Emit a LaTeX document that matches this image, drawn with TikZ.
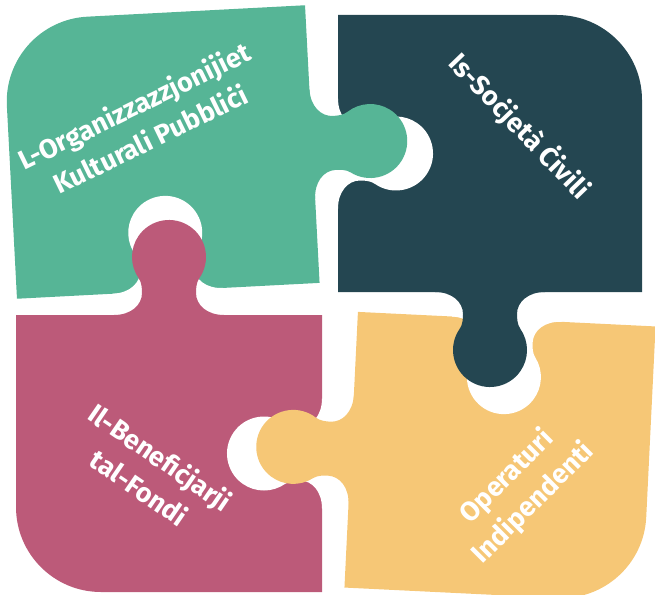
\documentclass[tikz,border=0pt]{standalone}
\usepackage{fontspec}
\setmainfont{Fira Sans}
\definecolor{pgreen}{HTML}{56B596}
\definecolor{pdark}{HTML}{244651}
\definecolor{ppink}{HTML}{BC5A79}
\definecolor{pyellow}{HTML}{F6C776}
\newcommand{\ptab}{(-3,55) -- (0,55) .. controls (0,38) and (10,27) .. (22,27) .. controls (27,27) and (32.7,27.4) .. (36.8,30.3) arc[start angle=125, end angle=-125, radius=37] .. controls (32.7,-27.4) and (27,-27) .. (22,-27) .. controls (10,-27) and (0,-38) .. (0,-55) -- (-3,-55) -- cycle}
\tikzset{
  lbl/.style={text=white, font=\bfseries\fontsize{27}{37}\selectfont, align=center, inner sep=0pt},
  hole/.style={fill=white}
}
\begin{document}
\begin{tikzpicture}[x=1pt, y=-1pt]
\useasboundingbox (0,0) rectangle (655,594);
% ---------- bodies ----------
% green
\begin{scope}[shift={(161,152)}, rotate=3]
  \fill[pgreen] (-151.5,-54) arc[start angle=180, end angle=270, radius=85] -- (151.5,-139) -- (151.5,139) -- (-151.5,139) -- cycle;
  \fill[hole, shift={(0,139)}, rotate=90] \ptab;
\end{scope}
% dark
\begin{scope}[shift={(490,153.5)}]
  \fill[pdark] (-152,-138.5) -- (67,-138.5) arc[start angle=270, end angle=360, radius=85] -- (152,138.5) -- (-152,138.5) -- cycle;
  \fill[hole, shift={(-152,0)}] \ptab;
\end{scope}
% pink
\begin{scope}[shift={(169,453.5)}]
  \fill[ppink] (-153,-138.5) -- (153,-138.5) -- (153,138.5) -- (-68,138.5) arc[start angle=90, end angle=180, radius=85] -- cycle;
  \fill[hole, shift={(153,0)}, rotate=180] \ptab;
\end{scope}
% yellow
\begin{scope}[shift={(500,457)}, rotate=-2.8]
  \fill[pyellow] (-149,-138) -- (149,-138) -- (149,53) arc[start angle=0, end angle=90, radius=85] -- (-149,138) -- cycle;
  \fill[hole, shift={(0,-138)}, rotate=-90] \ptab;
\end{scope}
% ---------- knobs ----------
\begin{scope}[shift={(161,152)}, rotate=3]
  \fill[pgreen, shift={(151.5,0)}] \ptab;
\end{scope}
\begin{scope}[shift={(490,153.5)}]
  \fill[pdark, shift={(0,138.5)}, rotate=-90] \ptab;
\end{scope}
\begin{scope}[shift={(169,453.5)}]
  \fill[ppink, shift={(0,-138.5)}, rotate=90] \ptab;
\end{scope}
\begin{scope}[shift={(500,457)}, rotate=-2.8]
  \fill[pyellow, shift={(-149,0)}, rotate=180] \ptab;
\end{scope}
% ---------- labels ----------
\node[lbl, rotate=26] (tgreen) at (142,122) {L-Organizzazzjonijiet\\Kulturali Pubbliċi};
\node[lbl, rotate=-46] (tdark) at (520,126) {Is-Soċjetà Ċivili};
\node[lbl, rotate=-34.5] (tpink) at (150,472) {Il-Benefiċjarji\\tal-Fondi};
\node[lbl, rotate=45] (tyellow) at (520,490) {Operaturi\\Indipendenti};
\end{tikzpicture}
\end{document}
